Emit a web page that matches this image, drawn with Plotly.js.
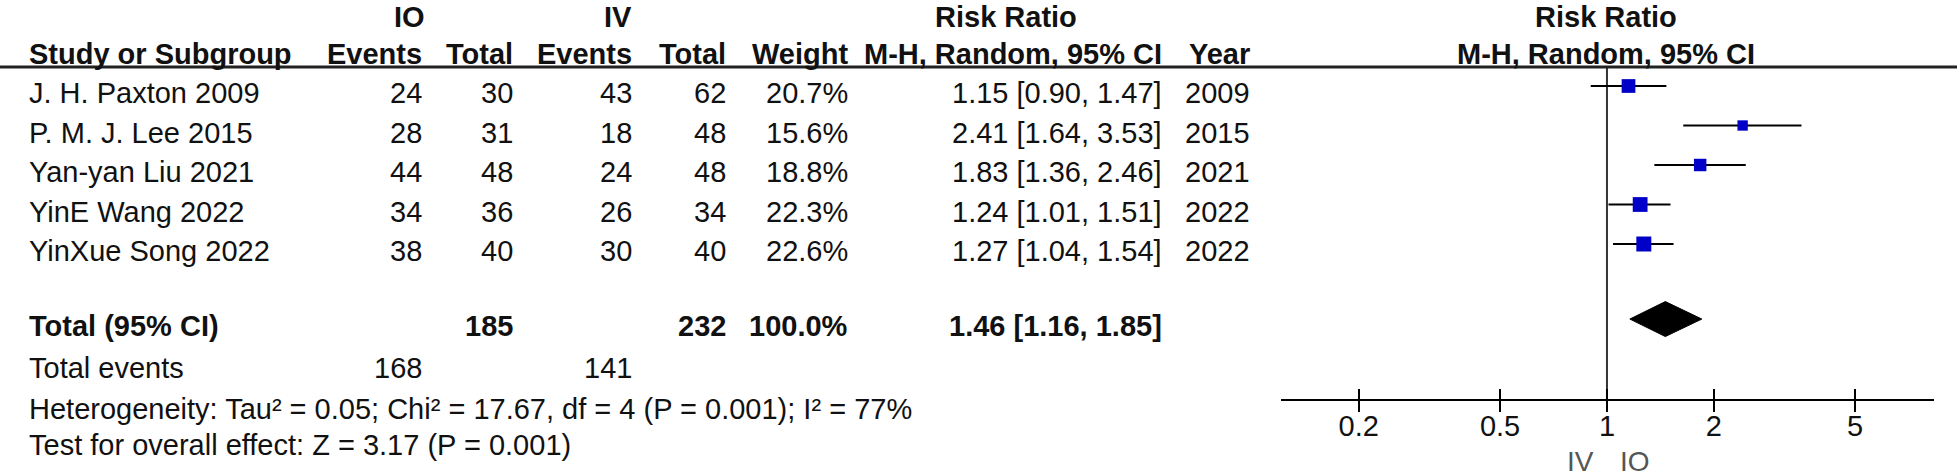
<!DOCTYPE html>
<html><head><meta charset="utf-8">
<script src="https://cdn.plot.ly/plotly-3.0.1.min.js"></script>
<style>html,body{margin:0;padding:0;background:#fff}#chart{width:1960px;height:476px}</style>
</head><body><div id="chart"></div>
<script>
// ---- data ----
const studies   = ["J. H. Paxton 2009", "P. M. J. Lee 2015", "Yan-yan Liu 2021", "YinE Wang 2022", "YinXue Song 2022"];
const ioEvents  = [24, 28, 44, 34, 38];
const ioTotal   = [30, 31, 48, 36, 40];
const ivEvents  = [43, 18, 24, 26, 30];
const ivTotal   = [62, 48, 48, 34, 40];
const weights   = [20.7, 15.6, 18.8, 22.3, 22.6];
const rr        = [1.15, 2.41, 1.83, 1.24, 1.27];
const rrLow     = [0.90, 1.64, 1.36, 1.01, 1.04];
const rrHigh    = [1.47, 3.53, 2.46, 1.51, 1.54];
const years     = [2009, 2015, 2021, 2022, 2022];
const totalIO   = 185, totalIV = 232, totalWeight = "100.0%";
const pooledRR  = 1.46, pooledLow = 1.16, pooledHigh = 1.85;
const eventsIO  = 168, eventsIV = 141;
const heterogeneity = "Heterogeneity: Tau² = 0.05; Chi² = 17.67, df = 4 (P = 0.001); I² = 77%";
const overallTest   = "Test for overall effect: Z = 3.17 (P = 0.001)";
const tickVals  = [0.2, 0.5, 1, 2, 5];
const tickText  = ["0.2", "0.5", "1", "2", "5"];
const favLeft = "IV", favRight = "IO";

// ---- layout geometry ----
const W = 1960, H = 476;
const FONT = "Liberation Sans, Arial, sans-serif";
const FS = 29;
const TXT = "#111";
const col = {study: 28, ioEv: 423, ioTot: 514, ivEv: 633, ivTot: 727, wt: 849, ci: 1163, yr: 1251,
             grpIO: 426, grpIV: 633, rrHead: 1006, plotHead: 1606};
const px = v => v / W;
const rowTop = -2.177, rowBottom = 9.873;   // y range (row units)
const textDy = 0.18;
const headRow1 = -1.75, headRow2 = -0.81, headLine = -0.48;
const totalRow = 5.9, eventsRow = 7.14, hetRow = 8.18, testRow = 9.1, axisRow = 7.95;
const axisPos = (rowBottom - axisRow) / (rowBottom - rowTop);
const xDomain = [1281 / W, 1934 / W];
const xRange = [-0.918, 0.921];
const fmt2 = v => v.toFixed(2);

// ---- traces ----
const ciX = [], ciY = [];
studies.forEach((s, i) => { ciX.push(rrLow[i], rrHigh[i], null); ciY.push(i, i, null); });

const traces = [
  {x: [1, 1], y: [headLine, axisRow], mode: "lines", xaxis: "x", yaxis: "y",
   line: {color: "#333", width: 2}, hoverinfo: "skip"},
  {x: ciX, y: ciY, mode: "lines", xaxis: "x", yaxis: "y",
   line: {color: "#000", width: 2}, hoverinfo: "skip"},
  {x: rr, y: studies.map((s, i) => i), mode: "markers", xaxis: "x", yaxis: "y",
   marker: {symbol: "square", color: "#0000c8", opacity: 1, size: weights.map(w => w * 0.663), line: {width: 0}},
   hoverinfo: "skip"},
  {x: [pooledLow, pooledRR, pooledHigh, pooledRR, pooledLow],
   y: [totalRow, totalRow - 0.443, totalRow, totalRow + 0.443, totalRow],
   mode: "lines", fill: "toself", fillcolor: "#000", xaxis: "x2", yaxis: "y",
   line: {color: "#000", width: 1}, hoverinfo: "skip"}
];

// ---- annotations ----
const ann = [];
function addText(text, xpx, y, anchor, opts) {
  opts = opts || {};
  ann.push({text: opts.bold ? "<b>" + text + "</b>" : text, xref: "paper", yref: "y",
    x: px(xpx), y: y, xanchor: anchor, yanchor: "middle", showarrow: false, borderpad: 0,
    font: {family: FONT, size: opts.size || FS, color: opts.color || TXT}});
}
// header row 1
addText("IO", col.grpIO, headRow1, "right", {bold: true});
addText("IV", col.grpIV, headRow1, "right", {bold: true});
addText("Risk Ratio", col.rrHead, headRow1, "center", {bold: true});
addText("Risk Ratio", col.plotHead, headRow1, "center", {bold: true});
// header row 2
addText("Study or Subgroup", col.study, headRow2, "left", {bold: true});
addText("Events", col.ioEv, headRow2, "right", {bold: true});
addText("Total", col.ioTot, headRow2, "right", {bold: true});
addText("Events", col.ivEv, headRow2, "right", {bold: true});
addText("Total", col.ivTot, headRow2, "right", {bold: true});
addText("Weight", col.wt, headRow2, "right", {bold: true});
addText("M-H, Random, 95% CI", col.ci, headRow2, "right", {bold: true});
addText("Year", col.yr, headRow2, "right", {bold: true});
addText("M-H, Random, 95% CI", col.plotHead, headRow2, "center", {bold: true});
// study rows
studies.forEach((s, i) => {
  const y = i + textDy;
  addText(s, col.study, y, "left");
  addText(String(ioEvents[i]), col.ioEv, y, "right");
  addText(String(ioTotal[i]), col.ioTot, y, "right");
  addText(String(ivEvents[i]), col.ivEv, y, "right");
  addText(String(ivTotal[i]), col.ivTot, y, "right");
  addText(weights[i].toFixed(1) + "%", col.wt, y, "right");
  addText(fmt2(rr[i]) + " [" + fmt2(rrLow[i]) + ", " + fmt2(rrHigh[i]) + "]", col.ci, y, "right");
  addText(String(years[i]), col.yr, y, "right");
});
// total row
const ty = totalRow + textDy;
addText("Total (95% CI)", col.study, ty, "left", {bold: true});
addText(String(totalIO), col.ioTot, ty, "right", {bold: true});
addText(String(totalIV), col.ivTot, ty, "right", {bold: true});
addText(totalWeight, col.wt, ty, "right", {bold: true});
addText(fmt2(pooledRR) + " [" + fmt2(pooledLow) + ", " + fmt2(pooledHigh) + "]", col.ci, ty, "right", {bold: true});
// total events and tests
addText("Total events", col.study, eventsRow, "left");
addText(String(eventsIO), col.ioEv, eventsRow, "right");
addText(String(eventsIV), col.ivEv, eventsRow, "right");
addText(heterogeneity, col.study, hetRow, "left");
addText(overallTest, col.study, testRow, "left");
// favours labels
ann.push({text: favLeft, xref: "x", yref: "paper", x: 0, y: 1 - 461 / H, xshift: -12,
  xanchor: "right", yanchor: "middle", showarrow: false, borderpad: 0, font: {family: FONT, size: 28, color: "#555"}});
ann.push({text: favRight, xref: "x", yref: "paper", x: 0, y: 1 - 461 / H, xshift: 12,
  xanchor: "left", yanchor: "middle", showarrow: false, borderpad: 0, font: {family: FONT, size: 28, color: "#555"}});

const baseX = {type: "log", domain: xDomain, range: xRange, anchor: "free", position: axisPos,
  showgrid: false, zeroline: false, tickmode: "array", tickvals: tickVals, ticktext: tickText,
  tickwidth: 2, ticklen: 11, tickcolor: "#000", fixedrange: true};

const layout = {
  width: W, height: H, margin: {l: 0, r: 0, t: 0, b: 0},
  paper_bgcolor: "#fff", plot_bgcolor: "rgba(0,0,0,0)", showlegend: false, hovermode: false,
  xaxis: Object.assign({}, baseX, {showline: true, linecolor: "#000", linewidth: 2, ticks: "outside",
    showticklabels: false}),
  xaxis2: Object.assign({}, baseX, {overlaying: "x", showline: false, ticks: "inside",
    showticklabels: true, ticklabelstandoff: 6, tickfont: {family: FONT, size: FS, color: TXT}}),
  yaxis: {range: [rowBottom, rowTop], domain: [0, 1], visible: false, fixedrange: true},
  shapes: [{type: "line", xref: "paper", yref: "y", x0: 0, x1: 1957 / W, y0: headLine, y1: headLine,
    line: {color: "#222", width: 3}}],
  annotations: ann
};

Plotly.newPlot("chart", traces, layout, {staticPlot: true, displayModeBar: false});
</script></body></html>
